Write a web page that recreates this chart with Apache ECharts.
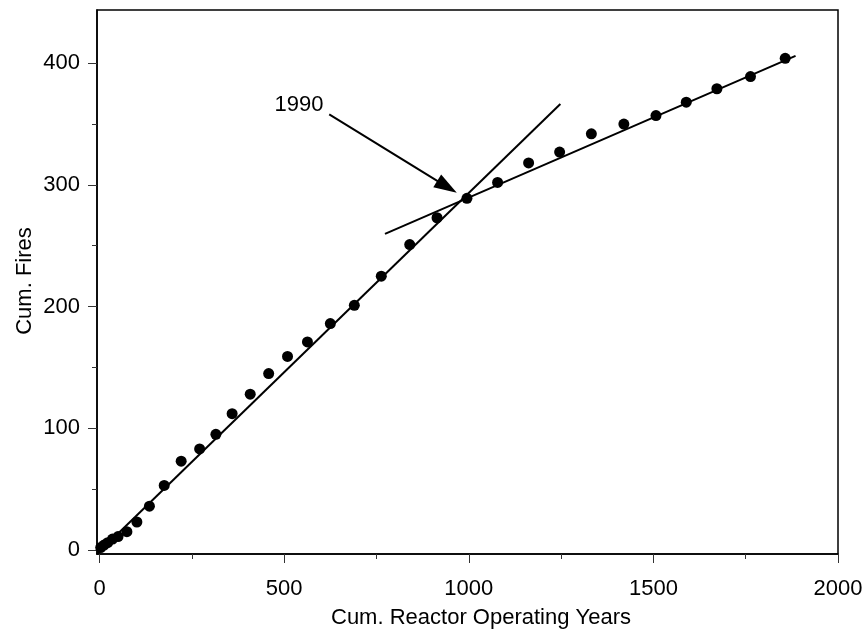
<!DOCTYPE html>
<html><head><meta charset="utf-8">
<script src="https://cdn.jsdelivr.net/npm/echarts@6/dist/echarts.min.js"></script>
<style>html,body{margin:0;padding:0;background:#fff}#c{width:865px;height:635px}</style>
</head><body><div id="c"></div>
<script>
// Cumulative reactor operating years (x) and cumulative fires (y)
const reactorYears = [3, 12, 22, 35, 50, 74, 101, 135, 175, 221, 271, 315, 359, 408, 458, 509, 563, 625, 690, 763, 840, 914, 995, 1078, 1162, 1246, 1332, 1420, 1507, 1589, 1672, 1763, 1857];
const cumFires     = [2, 4, 6, 9, 11, 15, 23, 36, 53, 73, 83, 95, 112, 128, 145, 159, 171, 186, 201, 225, 251, 273, 289, 302, 318, 327, 342, 350, 357, 368, 379, 389, 404];

// Fitted trend lines (end points, data units)
const fitBefore1990 = [[-7, -3.3], [1248, 366.5]];
const fitAfter1990  = [[773, 259.7], [1885, 406]];

// Annotation "1990" (label centre, arrow start and arrow head centre, data units)
const annotText = '1990';
const annotLabelPos = [540, 366];
const annotArrowFrom = [622, 358];
const annotArrowTo = [941, 298.4];

// Axis ticks
const xMajorTicks = [0, 500, 1000, 1500, 2000];
const xMinorTicks = [250, 750, 1250, 1750];
const yMajorTicks = [0, 100, 200, 300, 400];
const yMinorTicks = [50, 150, 250, 350];

const xTitle = 'Cum. Reactor Operating Years';
const yTitle = 'Cum. Fires';

const FONT = '"Liberation Sans", Arial, Helvetica, sans-serif';
const points = reactorYears.map((x, i) => [x, cumFires[i]]);

const chart = echarts.init(document.getElementById('c'), null, {renderer: 'canvas'});

const X_MIN = -7, X_MAX = 2000, Y_MIN = -3.3, Y_MAX = 443.7;
const plain = v => String(v);

function xAxisBase(extra) {
  return Object.assign({
    type: 'value', min: X_MIN, max: X_MAX, position: 'bottom', gridIndex: 0,
    splitLine: {show: false}
  }, extra);
}
function yAxisBase(extra) {
  return Object.assign({
    type: 'value', min: Y_MIN, max: Y_MAX, position: 'left', gridIndex: 0,
    splitLine: {show: false}
  }, extra);
}

const option = {
  animation: false,
  backgroundColor: '#fff',
  grid: {
    left: 97, right: 27, top: 10, bottom: 81,
    show: true, borderColor: '#000', borderWidth: 1.5, backgroundColor: 'transparent',
    containLabel: false, outerBoundsMode: 'none'
  },
  xAxis: [
    xAxisBase({
      axisLine: {show: true, onZero: false, lineStyle: {color: '#000', width: 1.5}},
      axisTick: {show: true, length: 9, customValues: xMajorTicks, lineStyle: {color: '#333', width: 1}},
      axisLabel: {show: true, customValues: xMajorTicks, formatter: plain, margin: 24, fontSize: 22, color: '#000', fontFamily: FONT}
    }),
    xAxisBase({
      axisLine: {show: false, onZero: false},
      axisTick: {show: true, length: 5, customValues: xMinorTicks, lineStyle: {color: '#333', width: 1}},
      axisLabel: {show: false}
    })
  ],
  yAxis: [
    yAxisBase({
      axisLine: {show: true, onZero: false, lineStyle: {color: '#000', width: 1.5}},
      axisTick: {show: true, length: 9, customValues: yMajorTicks, lineStyle: {color: '#333', width: 1}},
      axisLabel: {show: true, customValues: yMajorTicks, formatter: plain, margin: 17, fontSize: 22, color: '#000', fontFamily: FONT}
    }),
    yAxisBase({
      axisLine: {show: false, onZero: false},
      axisTick: {show: true, length: 5, customValues: yMinorTicks, lineStyle: {color: '#333', width: 1}},
      axisLabel: {show: false}
    })
  ],
  graphic: [
    {type: 'text', x: 481, y: 618, silent: true,
     style: {text: xTitle, fontSize: 22, fontFamily: FONT, fill: '#000', align: 'center', verticalAlign: 'middle'}},
    {type: 'text', x: 25, y: 281, rotation: Math.PI / 2, silent: true,
     style: {text: yTitle, fontSize: 22, fontFamily: FONT, fill: '#000', align: 'center', verticalAlign: 'middle'}}
  ],
  series: [
    {type: 'line', name: 'fit1', xAxisIndex: 0, yAxisIndex: 0, data: fitBefore1990,
     symbol: 'none', silent: true, lineStyle: {color: '#000', width: 2}, z: 2},
    {type: 'line', name: 'fit2', xAxisIndex: 0, yAxisIndex: 0, data: fitAfter1990,
     symbol: 'none', silent: true, lineStyle: {color: '#000', width: 2}, z: 2},
    {type: 'scatter', name: 'fires', xAxisIndex: 0, yAxisIndex: 0, data: points,
     symbol: 'circle', symbolSize: 11, itemStyle: {color: '#000', opacity: 1}, z: 3},
    {type: 'scatter', name: 'annot', xAxisIndex: 0, yAxisIndex: 0, data: [],
     symbolSize: 0, silent: true, z: 4,
     markLine: {
       silent: true, animation: false,
       symbol: ['none', 'triangle'],
       label: {show: false},
       lineStyle: {color: '#000', width: 2, type: 'solid'},
       data: [[
         {coord: annotArrowFrom, symbol: 'none'},
         {coord: annotArrowTo, symbol: 'triangle', symbolSize: [15, 23]}
       ]]
     }}
  ]
};
chart.setOption(option);

// "1990" annotation text placed at its data position through the axes
const labelPx = chart.convertToPixel({xAxisIndex: 0, yAxisIndex: 0}, annotLabelPos);
chart.setOption({
  graphic: [
    {type: 'text', x: 481, y: 618, silent: true,
     style: {text: xTitle, fontSize: 22, fontFamily: FONT, fill: '#000', align: 'center', verticalAlign: 'middle'}},
    {type: 'text', x: 25, y: 281, rotation: Math.PI / 2, silent: true,
     style: {text: yTitle, fontSize: 22, fontFamily: FONT, fill: '#000', align: 'center', verticalAlign: 'middle'}},
    {type: 'text', x: labelPx[0], y: labelPx[1], silent: true, z: 10,
     style: {text: annotText, fontSize: 22, fontFamily: FONT, fill: '#000', align: 'center', verticalAlign: 'middle'}}
  ]
});
</script>
</body></html>
